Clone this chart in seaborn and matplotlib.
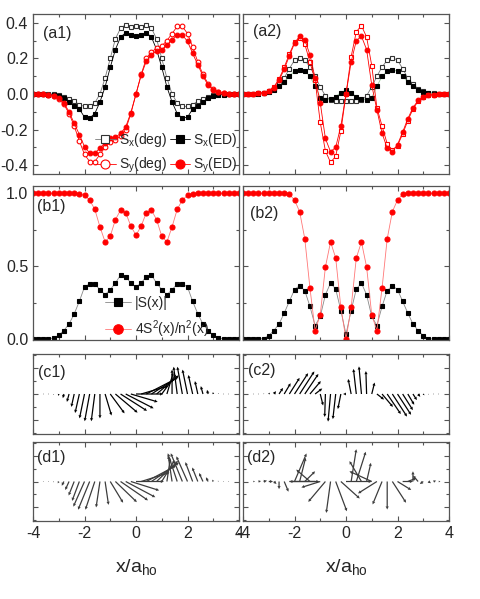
import numpy as np
import matplotlib
matplotlib.use("Agg")
import matplotlib.pyplot as plt
from matplotlib.ticker import MultipleLocator
import seaborn as sns

# grid of positions x/a_ho
x = [-4.0, -3.8, -3.6, -3.4, -3.2, -3.0, -2.8, -2.6, -2.4, -2.2, -2.0,
     -1.8, -1.6, -1.4, -1.2, -1.0, -0.8, -0.6, -0.4, -0.2, 0.0,
     0.2, 0.4, 0.6, 0.8, 1.0, 1.2, 1.4, 1.6, 1.8, 2.0,
     2.2, 2.4, 2.6, 2.8, 3.0, 3.2, 3.4, 3.6, 3.8, 4.0]

# (a1) spin components
sx_deg_1 = [0, 0, 0, 0, 0, -0.005, -0.015, -0.03, -0.04, -0.06, -0.07,
            -0.07, -0.05, 0.0, 0.09, 0.2, 0.31, 0.37, 0.39, 0.375, 0.38,
            0.375, 0.39, 0.37, 0.31, 0.2, 0.09, 0.0, -0.05, -0.07, -0.07,
            -0.06, -0.04, -0.03, -0.015, -0.005, 0, 0, 0, 0, 0]
sx_ed_1 = [0, 0, -0.001, -0.003, -0.006, -0.012, -0.025, -0.045, -0.065, -0.085, -0.13,
           -0.135, -0.11, -0.045, 0.04, 0.15, 0.25, 0.32, 0.345, 0.33, 0.325,
           0.33, 0.345, 0.32, 0.25, 0.15, 0.04, -0.045, -0.11, -0.135, -0.13,
           -0.085, -0.065, -0.045, -0.025, -0.012, -0.006, -0.003, -0.001, 0, 0]
sy_deg_1 = [0, 0, -0.001, -0.004, -0.012, -0.027, -0.058, -0.11, -0.18, -0.265, -0.34,
            -0.38, -0.38, -0.34, -0.30, -0.27, -0.26, -0.235, -0.2, -0.11, 0.0,
            0.11, 0.2, 0.235, 0.26, 0.27, 0.30, 0.34, 0.38, 0.38, 0.34,
            0.265, 0.18, 0.11, 0.058, 0.027, 0.012, 0.004, 0.001, 0, 0]
sy_ed_1 = [0, 0, -0.001, -0.004, -0.01, -0.022, -0.05, -0.1, -0.165, -0.228, -0.296,
           -0.332, -0.332, -0.305, -0.275, -0.25, -0.243, -0.222, -0.185, -0.105, 0.0,
           0.105, 0.185, 0.222, 0.243, 0.25, 0.275, 0.305, 0.332, 0.332, 0.296,
           0.228, 0.165, 0.1, 0.05, 0.022, 0.01, 0.004, 0.001, 0, 0]

# (a2) spin components
sx_deg_2 = [0, 0, 0.001, 0.003, 0.008, 0.017, 0.03, 0.055, 0.09, 0.143, 0.19,
            0.205, 0.19, 0.152, 0.1, 0.04, -0.01, -0.035, -0.04, -0.042, -0.04,
            -0.042, -0.04, -0.035, -0.01, 0.04, 0.1, 0.152, 0.19, 0.205, 0.19,
            0.143, 0.09, 0.055, 0.03, 0.017, 0.008, 0.003, 0.001, 0, 0]
sx_ed_2 = [0, 0, 0.001, 0.002, 0.005, 0.011, 0.024, 0.043, 0.068, 0.1, 0.128,
           0.137, 0.128, 0.1, 0.043, -0.02, -0.032, -0.028, -0.015, 0.008, 0.022,
           0.008, -0.015, -0.028, -0.032, -0.02, 0.043, 0.1, 0.128, 0.137, 0.128,
           0.1, 0.068, 0.043, 0.024, 0.011, 0.005, 0.002, 0.001, 0, 0]
sy_deg_2 = [0, 0, 0.001, 0.003, 0.008, 0.018, 0.04, 0.085, 0.15, 0.225, 0.29,
            0.315, 0.28, 0.18, 0.077, -0.16, -0.32, -0.385, -0.35, -0.21, 0.0,
            0.21, 0.35, 0.385, 0.32, 0.16, -0.077, -0.18, -0.28, -0.315, -0.29,
            -0.225, -0.15, -0.085, -0.04, -0.018, -0.008, -0.003, -0.001, 0, 0]
sy_ed_2 = [0, 0, 0.001, 0.003, 0.007, 0.017, 0.036, 0.077, 0.139, 0.214, 0.285,
           0.327, 0.305, 0.22, 0.09, -0.05, -0.25, -0.325, -0.30, -0.18, 0.0,
           0.18, 0.30, 0.325, 0.25, 0.05, -0.09, -0.22, -0.305, -0.327, -0.285,
           -0.214, -0.139, -0.077, -0.036, -0.017, -0.007, -0.003, -0.001, 0, 0]

# (b1) |S(x)| and 4S^2/n^2
s_abs_1 = [0, 0, 0.001, 0.003, 0.008, 0.028, 0.06, 0.105, 0.174, 0.26, 0.358,
           0.38, 0.378, 0.34, 0.305, 0.34, 0.385, 0.44, 0.43, 0.385, 0.358,
           0.385, 0.43, 0.44, 0.385, 0.34, 0.305, 0.34, 0.378, 0.38, 0.358,
           0.26, 0.174, 0.105, 0.06, 0.028, 0.008, 0.003, 0.001, 0, 0]
ratio_1 = [1.0, 1.0, 1.0, 1.0, 1.0, 1.0, 1.0, 1.0, 1.0, 0.997, 0.986,
           0.954, 0.89, 0.77, 0.667, 0.706, 0.819, 0.885, 0.867, 0.775, 0.713,
           0.775, 0.867, 0.885, 0.819, 0.706, 0.667, 0.77, 0.89, 0.954, 0.986,
           0.997, 1.0, 1.0, 1.0, 1.0, 1.0, 1.0, 1.0, 1.0, 1.0]

# (b2)
s_abs_2 = [0, 0, 0, 0.001, 0.005, 0.025, 0.06, 0.105, 0.179, 0.26, 0.34,
           0.367, 0.333, 0.225, 0.094, 0.156, 0.305, 0.385, 0.344, 0.197, 0.034,
           0.197, 0.344, 0.385, 0.305, 0.156, 0.094, 0.225, 0.333, 0.367, 0.34,
           0.26, 0.179, 0.105, 0.06, 0.025, 0.005, 0.001, 0, 0, 0]
ratio_2 = [1.0, 1.0, 1.0, 1.0, 1.0, 1.0, 1.0, 1.0, 1.0, 0.993, 0.954,
           0.874, 0.688, 0.351, 0.06, 0.167, 0.495, 0.667, 0.557, 0.218, 0.0,
           0.218, 0.557, 0.667, 0.495, 0.167, 0.06, 0.351, 0.688, 0.874, 0.954,
           0.993, 1.0, 1.0, 1.0, 1.0, 1.0, 1.0, 1.0, 1.0, 1.0]

# (d2) spin texture arrows
d2_u = [0, 0, 0.02, 0.03, 0.04, 0.05, 0.03, 0.0, 0.05, 0.35, 0.14,
        0.07, 0.12, -0.16, -0.3, -0.22, -0.2, -0.05, 0.13, 0.22, 0.3,
        0.06, 0.11, -0.14, 0.05, -0.26, -0.22, -0.11, 0.0, 0.16, 0.16,
        0.12, 0.1, 0.0, -0.06, -0.04, 0.03, 0.03, 0.02, 0, 0]
d2_v = [0, 0, 0.0, 0.005, 0.01, 0.0, -0.03, -0.09, -0.12, 0.0, 0.33,
        0.28, 0.12, 0.14, 0.0, -0.07, -0.24, -0.37, -0.35, -0.2, 0.0,
        0.38, 0.35, 0.24, 0.22, 0.12, -0.14, -0.27, -0.33, -0.25, -0.1,
        0.0, 0.04, 0.12, 0.07, -0.03, -0.02, 0.01, 0.0, 0, 0]

sns.set_theme(style="ticks")
plt.rcParams["font.family"] = ["Liberation Sans Narrow", "Liberation Sans", "DejaVu Sans"]
plt.rcParams["mathtext.fontset"] = "custom"
plt.rcParams["mathtext.rm"] = "Liberation Sans Narrow"
plt.rcParams["axes.unicode_minus"] = False

fig = plt.figure(figsize=(4.8, 5.99), dpi=100)

W = 480.0
H = 599.0


def add_ax(x0, x1, top, bottom):
    return fig.add_axes([x0 / W, 1 - bottom / H, (x1 - x0) / W, (bottom - top) / H])


cols = [(33, 239), (243, 449)]
rows = [(14, 174), (186, 340), (354, 434), (442, 521)]
axes = [[add_ax(c[0], c[1], r[0], r[1]) for c in cols] for r in rows]


def style(ax, labels_x, labels_y):
    ax.set_xlim(-4, 4)
    ax.xaxis.set_major_locator(MultipleLocator(2))
    ax.xaxis.set_minor_locator(MultipleLocator(1))
    ax.tick_params(which="both", direction="in", top=True, right=True,
                   color="#555555", labelsize=11.5, pad=3.5)
    ax.tick_params(which="major", length=3.5, width=0.8)
    ax.tick_params(which="minor", length=2.5, width=0.8)
    ax.tick_params(labelbottom=labels_x, labelleft=labels_y)
    for s in ax.spines.values():
        s.set_color("#555555")
        s.set_linewidth(0.9)


def series(ax, y, marker, color, filled, lc, ms, label):
    sns.lineplot(x=x, y=y, ax=ax, color=lc, linewidth=0.6, marker=marker,
                 markersize=ms, markerfacecolor=color if filled else "white",
                 markeredgecolor=color, markeredgewidth=0.8, label=label)


# row a
for j, (sxd, sxe, syd, sye) in enumerate([(sx_deg_1, sx_ed_1, sy_deg_1, sy_ed_1),
                                          (sx_deg_2, sx_ed_2, sy_deg_2, sy_ed_2)]):
    ax = axes[0][j]
    series(ax, sxd, "s", "#333333", False, "#777777", 3.2, "S$_\\mathregular{x}$(deg)")
    series(ax, sxe, "s", "black", True, "black" if j == 0 else "#99cc99", 3.2, "S$_\\mathregular{x}$(ED)")
    series(ax, syd, "o" if j == 0 else "s", "red", False, "red", 3.4, "S$_\\mathregular{y}$(deg)")
    series(ax, sye, "o", "red", True, "red", 3.4, "S$_\\mathregular{y}$(ED)")
    ax.set_ylim(-0.45, 0.45)
    ax.yaxis.set_major_locator(MultipleLocator(0.2))
    ax.yaxis.set_minor_locator(MultipleLocator(0.1))
    ax.yaxis.set_major_formatter("{x:.1f}")
    style(ax, False, j == 0)
    ax.get_legend().remove()

h, l = axes[0][0].get_legend_handles_labels()
axes[0][0].legend([h[0], h[2], h[1], h[3]], [l[0], l[2], l[1], l[3]], ncol=2,
                  loc="lower right", bbox_to_anchor=(1.04, -0.07), frameon=False,
                  fontsize=10, markerscale=1.9, handlelength=1.5, handletextpad=0.2,
                  columnspacing=0.2, labelspacing=0.5, borderpad=0.2)

# row b
for j, (sa, ra) in enumerate([(s_abs_1, ratio_1), (s_abs_2, ratio_2)]):
    ax = axes[1][j]
    series(ax, sa, "s", "black", True, "#888888", 3.2, "|S(x)|")
    series(ax, ra, "o", "red", True, "#ff7777", 3.6,
           "4S$^\\mathregular{2}$(x)/n$^\\mathregular{2}$(x)")
    ax.set_ylim(-0.005, 1.05)
    ax.yaxis.set_major_locator(MultipleLocator(0.5))
    ax.yaxis.set_minor_locator(MultipleLocator(0.25))
    ax.yaxis.set_major_formatter("{x:.1f}")
    style(ax, False, j == 0)
    ax.get_legend().remove()

axes[1][0].legend(loc="lower left", bbox_to_anchor=(0.3, -0.06), frameon=False,
                  fontsize=10, markerscale=1.9, handlelength=1.9, handletextpad=0.3,
                  labelspacing=0.55, borderpad=0.2)

# rows c and d: spin textures
xs = np.array(x)
quiv = [(0, 0, sx_deg_1, sy_deg_1, "black", 0.36),
        (0, 1, sx_deg_2, sy_deg_2, "black", 0.36),
        (1, 0, sx_ed_1, sy_ed_1, "#3c3c3c", 0.30),
        (1, 1, d2_u, d2_v, "#3c3c3c", 0.30)]
for (r, c, u, v, col, sc) in quiv:
    ax = axes[2 + r][c]
    sel = slice(2, 39)
    ax.quiver(xs[sel], np.zeros(len(xs))[sel], np.array(u)[sel], np.array(v)[sel],
              angles="xy", scale_units="xy", scale=sc, color=col, width=0.006,
              headwidth=2.6, headlength=2.6, headaxislength=2.4, minlength=0.6)
    ax.set_ylim(-1.55, 1.55)
    ax.yaxis.set_major_locator(MultipleLocator(1))
    ax.yaxis.set_minor_locator(MultipleLocator(0.5))
    style(ax, r == 1, False)

# panel labels
tags = [["(a1)", "(a2)"], ["(b1)", "(b2)"], ["(c1)", "(c2)"], ["(d1)", "(d2)"]]
tag_pos = [[(0.05, 0.88), (0.05, 0.89)], [(0.02, 0.87), (0.035, 0.82)],
           [(0.025, 0.77), (0.025, 0.8)], [(0.02, 0.81), (0.02, 0.81)]]
for i in range(4):
    for j in range(2):
        px, py = tag_pos[i][j]
        axes[i][j].text(px, py, tags[i][j], transform=axes[i][j].transAxes,
                        fontsize=11.5, ha="left", va="center")

for j in range(2):
    axes[3][j].set_xlabel("x/a$_\\mathregular{ho}$", fontsize=14, labelpad=12)

fig.savefig("out.png", dpi=100)
